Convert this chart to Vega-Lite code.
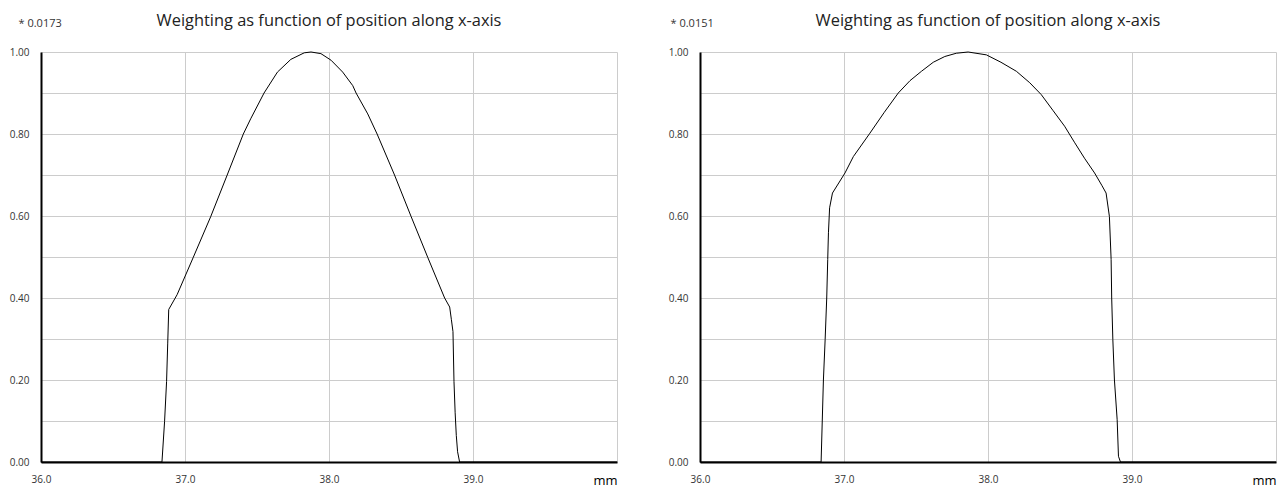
{
  "$schema": "https://vega.github.io/schema/vega-lite/v6.json",
  "background": "white",
  "padding": {"left": 1, "top": 12, "right": 5, "bottom": 0},
  "spacing": 41,
  "config": {
    "font": "Open Sans",
    "view": {"stroke": null},
    "title": {"fontSize": 16.4, "fontWeight": "normal", "color": "#222", "anchor": "middle", "offset": -12, "font": "Open Sans"},
    "axis": {"labelFont": "Open Sans", "labelFontSize": 10, "labelColor": "#333", "ticks": false, "domainColor": "#000", "domainWidth": 2, "gridColor": "#cccccc", "gridWidth": 1, "labelOverlap": false, "labelFlush": false}
  },
  "datasets": {
    "L": [
      {"mm": 36.0, "w": 0}, {"mm": 36.84, "w": 0}, {"mm": 36.858, "w": 0.098}, {"mm": 36.872, "w": 0.196},
      {"mm": 36.88, "w": 0.29}, {"mm": 36.887, "w": 0.372}, {"mm": 36.945, "w": 0.408}, {"mm": 37.056, "w": 0.498},
      {"mm": 37.178, "w": 0.598}, {"mm": 37.293, "w": 0.7}, {"mm": 37.405, "w": 0.8}, {"mm": 37.456, "w": 0.837},
      {"mm": 37.549, "w": 0.9}, {"mm": 37.642, "w": 0.951}, {"mm": 37.735, "w": 0.982}, {"mm": 37.828, "w": 0.998},
      {"mm": 37.875, "w": 1.0}, {"mm": 37.944, "w": 0.996}, {"mm": 38.014, "w": 0.98}, {"mm": 38.095, "w": 0.951},
      {"mm": 38.165, "w": 0.918}, {"mm": 38.188, "w": 0.9}, {"mm": 38.269, "w": 0.849}, {"mm": 38.334, "w": 0.8},
      {"mm": 38.455, "w": 0.7}, {"mm": 38.571, "w": 0.598}, {"mm": 38.687, "w": 0.498}, {"mm": 38.803, "w": 0.4},
      {"mm": 38.838, "w": 0.378}, {"mm": 38.85, "w": 0.347}, {"mm": 38.861, "w": 0.318}, {"mm": 38.868, "w": 0.196},
      {"mm": 38.876, "w": 0.12}, {"mm": 38.884, "w": 0.065}, {"mm": 38.893, "w": 0.025}, {"mm": 38.907, "w": 0},
      {"mm": 40.0, "w": 0}
    ],
    "R": [
      {"mm": 36.0, "w": 0}, {"mm": 36.841, "w": 0}, {"mm": 36.857, "w": 0.2}, {"mm": 36.869, "w": 0.298},
      {"mm": 36.88, "w": 0.4}, {"mm": 36.887, "w": 0.494}, {"mm": 36.892, "w": 0.559}, {"mm": 36.9, "w": 0.62},
      {"mm": 36.92, "w": 0.656}, {"mm": 37.007, "w": 0.705}, {"mm": 37.065, "w": 0.745}, {"mm": 37.18, "w": 0.802},
      {"mm": 37.28, "w": 0.853}, {"mm": 37.377, "w": 0.9}, {"mm": 37.458, "w": 0.93}, {"mm": 37.538, "w": 0.953},
      {"mm": 37.62, "w": 0.975}, {"mm": 37.7, "w": 0.989}, {"mm": 37.78, "w": 0.997}, {"mm": 37.862, "w": 1.0},
      {"mm": 37.989, "w": 0.993}, {"mm": 38.09, "w": 0.975}, {"mm": 38.197, "w": 0.953}, {"mm": 38.29, "w": 0.925},
      {"mm": 38.37, "w": 0.896}, {"mm": 38.45, "w": 0.858}, {"mm": 38.532, "w": 0.819}, {"mm": 38.6, "w": 0.78},
      {"mm": 38.67, "w": 0.741}, {"mm": 38.74, "w": 0.705}, {"mm": 38.79, "w": 0.675}, {"mm": 38.82, "w": 0.656},
      {"mm": 38.843, "w": 0.599}, {"mm": 38.855, "w": 0.494}, {"mm": 38.859, "w": 0.4}, {"mm": 38.867, "w": 0.298},
      {"mm": 38.878, "w": 0.2}, {"mm": 38.897, "w": 0.103}, {"mm": 38.906, "w": 0.014}, {"mm": 38.92, "w": 0},
      {"mm": 40.0, "w": 0}
    ]
  },
  "hconcat": [
    {
      "width": 576, "height": 410,
      "title": "Weighting as function of position along x-axis",
      "data": {"name": "L"},
      "mark": {"type": "line", "color": "#000", "strokeWidth": 1},
      "encoding": {
        "x": {"field": "mm", "type": "quantitative", "scale": {"domain": [36, 40], "nice": false, "zero": false},
          "axis": {"title": null, "values": [36, 37, 38, 39, 40], "labelPadding": 12,
            "labelExpr": "datum.value == 40 ? 'mm' : format(datum.value, '.1f')",
            "labelAlign": {"condition": {"test": "datum.value == 40", "value": "right"}, "value": "center"},
            "labelFontSize": {"condition": {"test": "datum.value == 40", "value": 13}, "value": 10},
            "labelColor": {"condition": {"test": "datum.value == 40", "value": "#000"}, "value": "#333"}}},
        "y": {"field": "w", "type": "quantitative", "scale": {"domain": [0, 1], "nice": false},
          "axis": {"title": "* 0.0173", "titleAngle": 0, "titleX": -23, "titleY": -29, "titleAlign": "left", "titleBaseline": "middle",
            "titleFontSize": 11, "titleFontWeight": "normal", "titleColor": "#333", "titleFont": "Open Sans",
            "values": [0, 0.1, 0.2, 0.3, 0.4, 0.5, 0.6, 0.7, 0.8, 0.9, 1.0],
            "labelExpr": "round(datum.value * 10) % 2 == 0 ? format(datum.value, '.2f') : ''",
            "labelPadding": 12, "minExtent": 40, "maxExtent": 40}}
      }
    },
    {
      "width": 576, "height": 410,
      "title": "Weighting as function of position along x-axis",
      "data": {"name": "R"},
      "mark": {"type": "line", "color": "#000", "strokeWidth": 1},
      "encoding": {
        "x": {"field": "mm", "type": "quantitative", "scale": {"domain": [36, 40], "nice": false, "zero": false},
          "axis": {"title": null, "values": [36, 37, 38, 39, 40], "labelPadding": 12,
            "labelExpr": "datum.value == 40 ? 'mm' : format(datum.value, '.1f')",
            "labelAlign": {"condition": {"test": "datum.value == 40", "value": "right"}, "value": "center"},
            "labelFontSize": {"condition": {"test": "datum.value == 40", "value": 13}, "value": 10},
            "labelColor": {"condition": {"test": "datum.value == 40", "value": "#000"}, "value": "#333"}}},
        "y": {"field": "w", "type": "quantitative", "scale": {"domain": [0, 1], "nice": false},
          "axis": {"title": "* 0.0151", "titleAngle": 0, "titleX": -30, "titleY": -29, "titleAlign": "left", "titleBaseline": "middle",
            "titleFontSize": 11, "titleFontWeight": "normal", "titleColor": "#333", "titleFont": "Open Sans",
            "values": [0, 0.1, 0.2, 0.3, 0.4, 0.5, 0.6, 0.7, 0.8, 0.9, 1.0],
            "labelExpr": "round(datum.value * 10) % 2 == 0 ? format(datum.value, '.2f') : ''",
            "labelPadding": 12, "minExtent": 40, "maxExtent": 40}}
      }
    }
  ]
}
